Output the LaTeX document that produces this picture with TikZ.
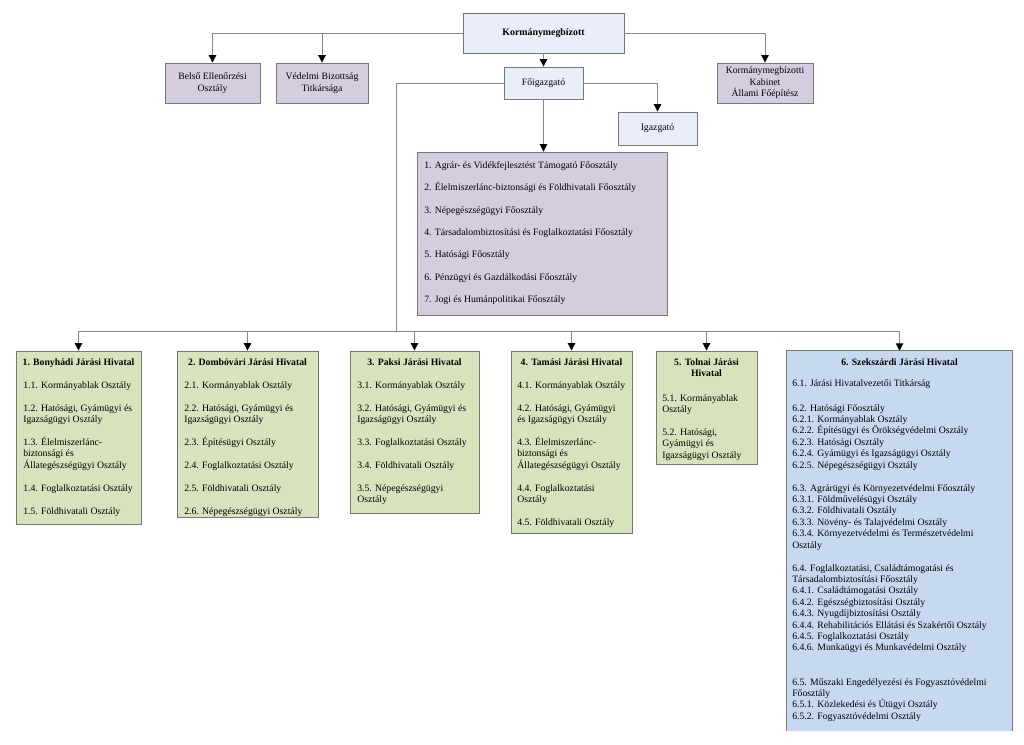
\documentclass[tikz,border=0pt]{standalone}
\usepackage{fontspec}
\setmainfont{Liberation Serif}
\usetikzlibrary{arrows.meta,shadows,fit}
\definecolor{lblue}{RGB}{233,238,250}
\definecolor{lpurple}{RGB}{214,204,224}
\definecolor{lgreen}{RGB}{215,227,189}
\definecolor{mblue}{RGB}{198,217,241}
\definecolor{bordgray}{RGB}{120,120,120}
\definecolor{linegray}{RGB}{135,135,135}
\newcommand\pgap{\\[8.7pt]}
\begin{document}
\begin{tikzpicture}[x=0.75pt,y=-0.75pt,
  every node/.style={font=\fontsize{7.3}{8.55}\selectfont, inner sep=0pt},
  box/.style={draw=bordgray, line width=0.7pt, inner sep=0pt,
    drop shadow={shadow xshift=0.9pt, shadow yshift=-0.9pt, fill=black, opacity=0.35}},
  conn/.style={draw=linegray, line width=0.75pt},
  arr/.style={conn, -{Triangle[width=5.5pt,length=5.5pt,color=black]}},
  lst/.style={anchor=north west, align=left},
  ttl/.style={anchor=base, font=\fontsize{7.3}{8.55}\selectfont\bfseries}
]
\useasboundingbox[fill=white] (0,0) rectangle (1024,744);

% top level
\node[box, fill=lblue, minimum width=120.75pt, minimum height=30pt, font=\fontsize{7.4}{8.55}\selectfont\bfseries] (K) at (543.5,33) {Kormánymegbízott};
\node[box, fill=lpurple, minimum width=71.25pt, minimum height=30pt, align=center] (be) at (212.5,83) {Belső Ellenőrzési\\Osztály};
\node[box, fill=lpurple, minimum width=69pt, minimum height=30pt, align=center] (vb) at (322,83) {Védelmi Bizottság\\Titkársága};
\node[box, fill=lpurple, minimum width=72pt, minimum height=30pt, align=center] (kk) at (765,83) {Kormánymegbízotti\\Kabinet\\Állami Főépítész};
\node[box, fill=lblue, minimum width=59.25pt, minimum height=24pt] (fo) at (543.5,83) {Főigazgató};
\node[box, fill=lblue, minimum width=59.25pt, minimum height=24.75pt] (ig) at (657.5,128.5) {Igazgató};
\node[box, fill=lpurple, fit={(417,152) (667,315)}] (fp) {};
\node[lst] (fpt) at (424,161) {1. Agrár- és Vidékfejlesztést Támogató Főosztály\\[8.3pt]
2. Élelmiszerlánc-biztonsági és Földhivatali Főosztály\\[8.3pt]
3. Népegészségügyi Főosztály\\[8.3pt]
4. Társadalombiztosítási és Foglalkoztatási Főosztály\\[8.3pt]
5. Hatósági Főosztály\\[8.3pt]
6. Pénzügyi és Gazdálkodási Főosztály\\[8.3pt]
7. Jogi és Humánpolitikai Főosztály};

\draw[arr] (K.west) -| (be.north);
\draw[arr] (K.west) -| (vb.north);
\draw[arr] (K.east) -| (kk.north);
\draw[arr] (K.south) -- (fo.north);
\draw[arr] (fo.east) -| (ig.north);
\draw[arr] (fo.south) -- (fo.south |- fp.north);

% district offices
\node[box, fill=lgreen, fit={(16,351) (141,524)}] (b1) {};
\node[box, fill=lgreen, fit={(177,351) (318,517)}] (b2) {};
\node[box, fill=lgreen, fit={(350,351) (479,513)}] (b3) {};
\node[box, fill=lgreen, fit={(511,351) (632,533)}] (b4) {};
\node[box, fill=lgreen, fit={(656,351) (757,464)}] (b5) {};
\node[fill=mblue, fit={(787,351) (1012,731)}] (b6) {};
\draw[draw=bordgray, line width=0.7pt] (b6.south west) -- (b6.north west) -- (b6.north east) -- (b6.south east);

\coordinate (bar) at (396,331);
\draw[conn] (fo.west) -| (bar);
\foreach \b in {b1,b2,b3,b4,b5,b6} \draw[arr] (bar) -| (\b.north);

\node[ttl] (t1) at (b1.north |- 0,365) {1. Bonyhádi Járási Hivatal};
\node[ttl] (t2) at (b2.north |- 0,365) {2. Dombóvári Járási Hivatal};
\node[ttl] (t3) at (b3.north |- 0,365) {3. Paksi Járási Hivatal};
\node[ttl] (t4) at (b4.north |- 0,365) {4. Tamási Járási Hivatal};
\node[ttl, anchor=north, align=center] (t5) at (b5.north |- 0,358) {5. Tolnai Járási\\Hivatal};
\node[ttl] (t6) at (b6.north |- 0,365) {6. Szekszárdi Járási Hivatal};

\node[lst] (l1) at (23,381) {1.1. Kormányablak Osztály\pgap
1.2. Hatósági, Gyámügyi és\\Igazságügyi Osztály\pgap
1.3. Élelmiszerlánc-\\biztonsági és\\Állategészségügyi Osztály\pgap
1.4. Foglalkoztatási Osztály\pgap
1.5. Földhivatali Osztály};

\node[lst] (l2) at (184,381) {2.1. Kormányablak Osztály\pgap
2.2. Hatósági, Gyámügyi és\\Igazságügyi Osztály\pgap
2.3. Építésügyi Osztály\pgap
2.4. Foglalkoztatási Osztály\pgap
2.5. Földhivatali Osztály\pgap
2.6. Népegészségügyi Osztály};

\node[lst] (l3) at (357,381) {3.1. Kormányablak Osztály\pgap
3.2. Hatósági, Gyámügyi és\\Igazságügyi Osztály\pgap
3.3. Foglalkoztatási Osztály\pgap
3.4. Földhivatali Osztály\pgap
3.5. Népegészségügyi\\Osztály};

\node[lst] (l4) at (517,381) {4.1. Kormányablak Osztály\pgap
4.2. Hatósági, Gyámügyi\\és Igazságügyi Osztály\pgap
4.3. Élelmiszerlánc-\\biztonsági és\\Állategészségügyi Osztály\pgap
4.4. Foglalkoztatási\\Osztály\pgap
4.5. Földhivatali Osztály};

\node[lst] (l5) at (662,394) {5.1. Kormányablak\\Osztály\pgap
5.2. Hatósági,\\Gyámügyi és\\Igazságügyi Osztály};

\node[lst] (l6) at (792,379) {6.1. Járási Hivatalvezetői Titkárság\\[10.2pt]
6.2. Hatósági Főosztály\\
6.2.1. Kormányablak Osztály\\
6.2.2. Építésügyi és Örökségvédelmi Osztály\\
6.2.3. Hatósági Osztály\\
6.2.4. Gyámügyi és Igazságügyi Osztály\\
6.2.5. Népegészségügyi Osztály\pgap
6.3. Agrárügyi és Környezetvédelmi Főosztály\\
6.3.1. Földművelésügyi Osztály\\
6.3.2. Földhivatali Osztály\\
6.3.3. Növény- és Talajvédelmi Osztály\\
6.3.4. Környezetvédelmi és Természetvédelmi\\
Osztály\pgap
6.4. Foglalkoztatási, Családtámogatási és\\
Társadalombiztosítási Főosztály\\
6.4.1. Családtámogatási Osztály\\
6.4.2. Egészségbiztosítási Osztály\\
6.4.3. Nyugdíjbiztosítási Osztály\\
6.4.4. Rehabilitációs Ellátási és Szakértői Osztály\\
6.4.5. Foglalkoztatási Osztály\\
6.4.6. Munkaügyi és Munkavédelmi Osztály\\[17.1pt]
6.5. Műszaki Engedélyezési és Fogyasztóvédelmi\\
Főosztály\\
6.5.1. Közlekedési és Útügyi Osztály\\
6.5.2. Fogyasztóvédelmi Osztály};
\end{tikzpicture}
\end{document}
